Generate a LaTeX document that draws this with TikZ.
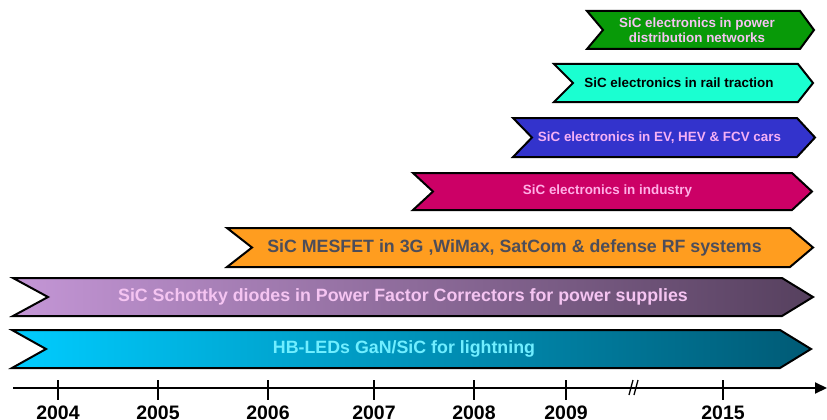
\documentclass[tikz,border=0pt]{standalone}
\usepackage{fontspec}
\setmainfont{Liberation Sans}
\usetikzlibrary{arrows.meta}
\definecolor{cgreen}{HTML}{089A08}
\definecolor{ccyan}{HTML}{1AFFD1}
\definecolor{cblue}{HTML}{3333CC}
\definecolor{cmag}{HTML}{CC0066}
\definecolor{corange}{HTML}{FF9D1F}
\definecolor{cpurpL}{HTML}{C496D6}
\definecolor{cpurpR}{HTML}{56405E}
\definecolor{ctealL}{HTML}{00CCFF}
\definecolor{ctealR}{HTML}{005A75}
\definecolor{tpink}{HTML}{F5C4F2}
\definecolor{tpinkb}{HTML}{F5B0F5}
\definecolor{tpinkm}{HTML}{FFB0E6}
\definecolor{tgray}{HTML}{4D4D59}
\definecolor{tlcyan}{HTML}{70EEFF}
\newcommand{\chevbar}[7]{%
  \path[#7] (#1,#5) -- (#3,#5) -- (#4,{(#5+#6)/2}) -- (#3,#6) -- (#1,#6) -- ({#1+#2},{(#5+#6)/2}) -- cycle;}
\tikzset{
  bar/.style={draw=black, line width=2pt, line join=miter},
  smalltxt/.style={font=\fontsize{13.4}{15}\selectfont\bfseries, inner sep=0pt, align=center},
  bigtxt/.style={font=\fontsize{17.8}{20}\selectfont\bfseries, inner sep=0pt},
  yeartxt/.style={font=\fontsize{19.5}{22}\selectfont\bfseries, inner sep=0pt},
  tickline/.style={line width=1.6pt},
}
\begin{document}
\begin{tikzpicture}[x=1pt,y=-1pt]
\useasboundingbox (0,0) rectangle (827,420);
% bars
\chevbar{587}{16}{800}{814}{11}{49}{bar, fill=cgreen}
\chevbar{554}{19}{798}{813}{64}{102}{bar, fill=ccyan}
\chevbar{513}{19}{797}{815}{118}{157}{bar, fill=cblue}
\chevbar{413}{20}{792}{812}{173}{210}{bar, fill=cmag}
\chevbar{227}{25}{790}{813}{228}{267}{bar, fill=corange}
\chevbar{13}{35}{782}{813}{278}{316}{bar, left color=cpurpL, right color=cpurpR}
\chevbar{12}{34}{780}{811}{330}{368}{bar, left color=ctealL, right color=ctealR}
% texts
\node[smalltxt, text=tpink] (tgreen) at (697,30) {SiC electronics in power\\[0pt]distribution networks};
\node[smalltxt, text=black] (tcyan) at (679,83) {SiC electronics in rail traction};
\node[smalltxt, text=tpinkb] (tblue) at (659.5,137.5) {SiC electronics in EV, HEV \& FCV cars};
\node[smalltxt, text=tpinkm] (tmag) at (607.5,191.5) {SiC electronics in industry};
\node[bigtxt, text=tgray] (torange) at (514.5,247.5) {SiC MESFET in 3G ,WiMax, SatCom \& defense RF systems};
\node[bigtxt, text=tpink] (tpurp) at (403,297) {SiC Schottky diodes in Power Factor Correctors for power supplies};
\node[bigtxt, text=tlcyan] (tteal) at (404,349) {HB-LEDs GaN/SiC for lightning};
% axis
\coordinate (axs) at (13,388);
\coordinate (axe) at (827,388);
\draw[line width=2pt, -{Triangle[length=12pt,width=11pt]}] (axs) -- (axe);
\foreach \xx/\yy in {58/2004,158/2005,268/2006,374/2007,474/2008,566/2009,723/2015}{
  \draw[tickline] (\xx,380) -- (\xx,400);
  \node[yeartxt, anchor=base] (y\yy) at (\xx,419) {\yy};
}
\draw[line width=1.3pt] (629,395) -- (633,380);
\draw[line width=1.3pt] (634,395) -- (638,380);
\end{tikzpicture}
\end{document}
